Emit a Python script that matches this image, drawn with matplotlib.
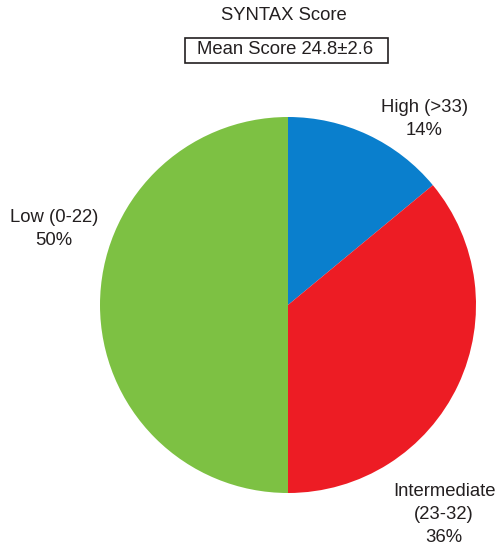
import matplotlib
matplotlib.use("Agg")
import matplotlib.pyplot as plt
from matplotlib.patches import Rectangle

plt.rcParams['font.family'] = ['Liberation Sans', 'DejaVu Sans']

categories = ["High (>33)", "Intermediate\n(23-32)", "Low (0-22)"]
shares = [14, 36, 50]
colors = ["#0a7fcd", "#ed1c24", "#7dc143"]
label_pos = [(0.725, 0.99), (0.83, -1.115), (-1.245, 0.405)]

W, H = 498, 546
fig = plt.figure(figsize=(W / 100, H / 100), dpi=100)
ax = fig.add_axes([100 / W, 53 / H, 376 / W, 376 / H])
ax.pie(shares, colors=colors, startangle=90, counterclock=False,
       radius=1, wedgeprops=dict(linewidth=0))
ax.set_xlim(-1, 1)
ax.set_ylim(-1, 1)
ax.set_aspect('equal')
ax.axis('off')

for name, val, (x, y) in zip(categories, shares, label_pos):
    ax.text(x, y, f"{name}\n{val}%", ha='center', va='center',
            fontsize=13.3, color='#231f20', linespacing=1.45, clip_on=False)

fig.text(284 / W, 1 - 16 / H, "SYNTAX Score", ha='center', va='center',
         fontsize=13.3, color='#231f20')

# boxed mean score under the title
fig.patches.append(Rectangle((185 / W, 1 - 63 / H), 203 / W, 25 / H,
                             transform=fig.transFigure, fc='white',
                             ec='#231f20', lw=1.2))
fig.text(285 / W, 1 - 50 / H, "Mean Score 24.8±2.6", ha='center', va='center',
         fontsize=13.3, color='#231f20')

fig.savefig("out.png", dpi=100)
